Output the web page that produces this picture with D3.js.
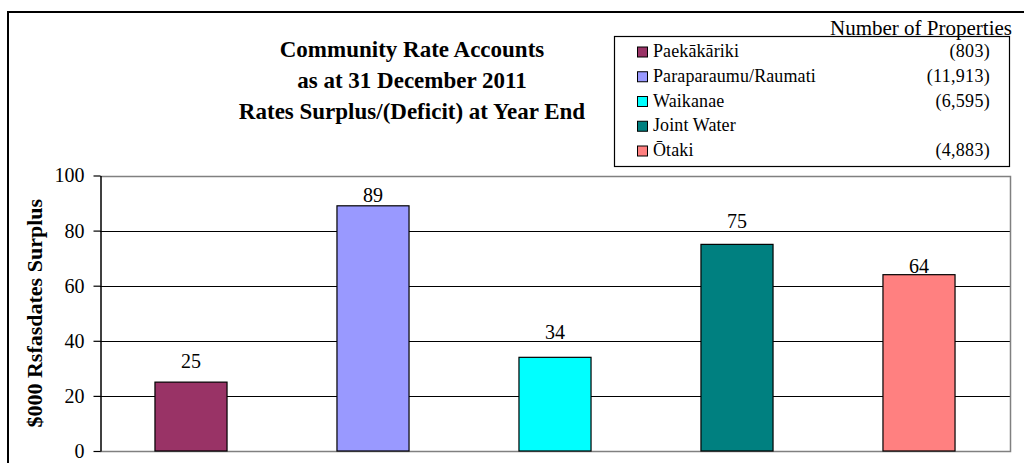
<!DOCTYPE html>
<html>
<head>
<meta charset="utf-8">
<script src="https://cdn.jsdelivr.net/npm/d3@7"></script>
<style>
  html, body { margin: 0; padding: 0; background: #fff; }
  svg text { font-family: "Liberation Serif", "Times New Roman", Times, serif; }
</style>
</head>
<body>
<svg id="chart" width="1024" height="463"></svg>
<script>
// Community rate accounts: surplus per area ($000)
const categories = ["Paekākāriki", "Paraparaumu/Raumati", "Waikanae", "Joint Water", "Ōtaki"];
const surplus = [25, 89, 34, 75, 64];
const propertyCounts = ["(803)", "(11,913)", "(6,595)", "", "(4,883)"];
const barColors = ["#993366", "#9999FF", "#00FFFF", "#008080", "#FF8080"];
const yTicks = [0, 20, 40, 60, 80, 100];
const titleLines = ["Community Rate Accounts", "as at 31 December 2011", "Rates Surplus/(Deficit) at Year End"];

// value-label lift above each bar top (px)
const labelGap = [14, 4, 18, 16, 2];

const FONT = "\"Liberation Serif\", \"Times New Roman\", Times, serif";
const svg = d3.select("#chart");
const plot = { left: 100, right: 1010, top: 175.5, bottom: 451 };

const x = d3.scaleBand()
  .domain(categories)
  .range([plot.left, plot.right])
  .paddingInner(0.604)
  .paddingOuter(0.302);

const y = d3.scaleLinear()
  .domain([0, 100])
  .range([plot.bottom, plot.top]);

// outer chart frame
svg.append("rect")
  .attr("x", 8).attr("y", 12)
  .attr("width", 1100).attr("height", 600)
  .attr("fill", "none")
  .attr("stroke", "#000")
  .attr("stroke-width", 2);

// title
svg.append("g").selectAll("text")
  .data(titleLines)
  .join("text")
  .attr("x", 412)
  .attr("y", (d, i) => 57 + i * 31)
  .attr("text-anchor", "middle")
  .attr("font-family", FONT)
  .attr("font-weight", "bold")
  .attr("font-size", 23)
  .attr("fill", "#000")
  .text(d => d);

// horizontal gridlines
svg.append("g").selectAll("line")
  .data(yTicks.filter(t => t > 0 && t < 100))
  .join("line")
  .attr("x1", plot.left).attr("x2", plot.right)
  .attr("y1", d => Math.round(y(d)) + 0.5)
  .attr("y2", d => Math.round(y(d)) + 0.5)
  .attr("stroke", "#000")
  .attr("stroke-width", 1);

// plot area border (top, right, bottom)
svg.append("path")
  .attr("d", `M${plot.left},${Math.round(plot.top) + 0.5}H${plot.right + 0.5}V${Math.round(plot.bottom) + 0.5}H${plot.left}`)
  .attr("fill", "none")
  .attr("stroke", "#808080")
  .attr("stroke-width", 1.5);

// bars
svg.append("g").selectAll("rect")
  .data(surplus)
  .join("rect")
  .attr("x", (d, i) => x(categories[i]))
  .attr("y", d => y(d))
  .attr("width", x.bandwidth())
  .attr("height", d => y(0) - y(d))
  .attr("fill", (d, i) => barColors[i])
  .attr("stroke", "#000")
  .attr("stroke-width", 1.2);

// value labels
svg.append("g").selectAll("text")
  .data(surplus)
  .join("text")
  .attr("x", (d, i) => x(categories[i]) + x.bandwidth() / 2)
  .attr("y", (d, i) => y(d) - labelGap[i])
  .attr("text-anchor", "middle")
  .attr("font-family", FONT)
  .attr("font-size", 20)
  .attr("fill", "#000")
  .text(d => d);

// y axis
const yAxis = d3.axisLeft(y)
  .tickValues(yTicks)
  .tickSize(7)
  .tickSizeOuter(0)
  .tickPadding(9);

const yg = svg.append("g")
  .attr("transform", `translate(${plot.left + 0.5},0)`)
  .call(yAxis)
  .attr("font-family", FONT);
yg.select(".domain").attr("stroke", "#000").attr("stroke-width", 1.5);
yg.selectAll(".tick line").attr("stroke", "#000").attr("stroke-width", 1.2);
yg.selectAll(".tick text")
  .attr("font-family", FONT)
  .attr("font-size", 20)
  .attr("fill", "#000");

// y axis title
svg.append("text")
  .attr("transform", `translate(42,${(plot.top + plot.bottom) / 2}) rotate(-90)`)
  .attr("text-anchor", "middle")
  .attr("font-family", FONT)
  .attr("font-weight", "bold")
  .attr("font-size", 22)
  .attr("fill", "#000")
  .text("$000 Rsfasdates Surplus");

// legend
const legend = svg.append("g");
legend.append("rect")
  .attr("x", 614.5).attr("y", 36.5)
  .attr("width", 395).attr("height", 130)
  .attr("fill", "#fff")
  .attr("stroke", "#000")
  .attr("stroke-width", 1.2);

legend.append("text")
  .attr("x", 1012)
  .attr("y", 35)
  .attr("text-anchor", "end")
  .attr("font-family", FONT)
  .attr("font-size", 21)
  .attr("fill", "#000")
  .text("Number of Properties");

const rows = legend.selectAll("g.row")
  .data(categories)
  .join("g")
  .attr("class", "row")
  .attr("transform", (d, i) => `translate(0,${57 + i * 24.75})`);

rows.append("rect")
  .attr("x", 637.5).attr("y", -10)
  .attr("width", 10).attr("height", 10)
  .attr("fill", (d, i) => barColors[i])
  .attr("stroke", "#000")
  .attr("stroke-width", 1);

rows.append("text")
  .attr("x", 653)
  .attr("y", 0)
  .attr("font-family", FONT)
  .attr("font-size", 18)
  .attr("letter-spacing", 0.1)
  .attr("fill", "#000")
  .text(d => d);

rows.append("text")
  .attr("x", 990)
  .attr("y", 0)
  .attr("text-anchor", "end")
  .attr("font-family", FONT)
  .attr("font-size", 18)
  .attr("letter-spacing", 0.3)
  .attr("fill", "#000")
  .text((d, i) => propertyCounts[i]);
</script>
</body>
</html>
